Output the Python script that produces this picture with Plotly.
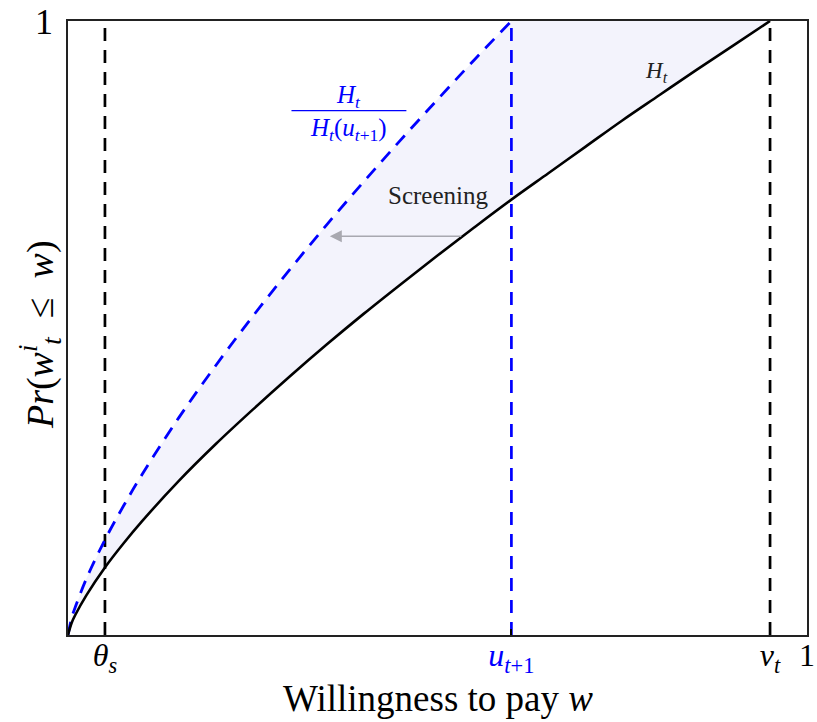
import plotly.graph_objects as go

# ---- data ----
theta_s = 0.05
u_next = 0.60
v_t = 0.95

w_grid = [0, 0.005, 0.01, 0.025, 0.05, 0.075, 0.1, 0.15, 0.2, 0.25, 0.3, 0.35,
          0.4, 0.45, 0.5, 0.55, 0.6, 0.65, 0.7, 0.75, 0.8, 0.85, 0.9, 0.95]
H_t = [0, 0.020, 0.033, 0.065, 0.110, 0.149, 0.185, 0.251, 0.311, 0.367, 0.421, 0.473,
       0.523, 0.571, 0.618, 0.664, 0.709, 0.752, 0.795, 0.838, 0.879, 0.920, 0.960, 1.0]

w_screen = [0, 0.005, 0.01, 0.025, 0.05, 0.075, 0.1, 0.15, 0.2, 0.25, 0.3, 0.35,
            0.4, 0.45, 0.5, 0.55, 0.6]
H_scaled = [0, 0.028, 0.046, 0.092, 0.155, 0.210, 0.261, 0.354, 0.439, 0.519, 0.595, 0.668,
            0.738, 0.806, 0.872, 0.937, 1.0]

x_tickvals = [theta_s, u_next, v_t, 1]
x_ticktext = ["<i>θ</i><sub><i>s</i></sub>",
              "<span style='color:#0000ff'><i>u</i><sub><i>t</i>+1</sub></span>",
              "<i>v</i><sub><i>t</i></sub>", "1"]
y_tickvals = [1]
y_ticktext = ["1"]

x_title = "Willingness to pay <i>w</i>"
y_title = "<i>Pr</i>(<i>w</i><sup><i>i</i></sup><sub><i>t</i></sub>&nbsp;&nbsp;≤&nbsp;&nbsp;<i>w</i>)"

FONT = "Liberation Serif"
BLUE = "#0000ff"
DASH = "13px,9px"

fig = go.Figure()

# shaded screening region
poly_x = w_screen + [v_t] + w_grid[::-1]
poly_y = H_scaled + [1.0] + H_t[::-1]
fig.add_trace(go.Scatter(x=poly_x, y=poly_y, mode="lines", fill="toself",
                         fillcolor="rgb(243,243,252)", line=dict(width=0),
                         hoverinfo="skip", showlegend=False))

# vertical dashed lines
for xv, col in [(theta_s, "black"), (u_next, BLUE), (v_t, "black")]:
    fig.add_trace(go.Scatter(x=[xv, xv], y=[0, 1], mode="lines",
                             line=dict(color=col, width=2.7, dash=DASH),
                             showlegend=False))

# curves
fig.add_trace(go.Scatter(x=w_screen, y=H_scaled, mode="lines",
                         line=dict(color=BLUE, width=2.8, dash=DASH, shape="spline"),
                         showlegend=False))
fig.add_trace(go.Scatter(x=w_grid, y=H_t, mode="lines",
                         line=dict(color="black", width=2.6, shape="spline"),
                         showlegend=False))

# fraction label
fig.add_annotation(x=0.380, y=0.877, text="<i>H</i><sub><i>t</i></sub>", showarrow=False,
                   font=dict(family=FONT, size=25, color=BLUE))
fig.add_shape(type="line", x0=0.3024, x1=0.4579, y0=0.854, y1=0.854,
              line=dict(color=BLUE, width=1.3))
fig.add_annotation(x=0.380, y=0.824,
                   text="<i>H</i><sub><i>t</i></sub>(<i>u</i><sub><i>t</i>+1</sub>)",
                   showarrow=False, font=dict(family=FONT, size=25, color=BLUE))

# Screening label + arrow
fig.add_annotation(x=0.500, y=0.7156, text="Screening", showarrow=False,
                   font=dict(family=FONT, size=25, color="#222222"))
fig.add_annotation(x=0.3543, y=0.6493, ax=0.5341, ay=0.6493, axref="x", ayref="y",
                   xref="x", yref="y", text="", showarrow=True,
                   arrowhead=2, arrowsize=1.6, arrowwidth=1.5, arrowcolor="#a8a8b0")

# H_t label
fig.add_annotation(x=0.7965, y=0.9177, text="<i>H</i><sub><i>t</i></sub>", showarrow=False,
                   font=dict(family=FONT, size=23, color="#222222"))

# axis titles
fig.add_annotation(x=0.5, y=-0.104, xref="paper", yref="paper", text=x_title,
                   showarrow=False, xanchor="center", yanchor="middle",
                   font=dict(family=FONT, size=37, color="black"))
fig.add_annotation(x=-0.038, y=0.49, xref="paper", yref="paper", text=y_title,
                   showarrow=False, xanchor="center", yanchor="middle", textangle=-90,
                   font=dict(family=FONT, size=38, color="black"))

fig.update_layout(
    width=817, height=722,
    margin=dict(l=68, r=10, t=21, b=87),
    plot_bgcolor="white", paper_bgcolor="white",
    font=dict(family=FONT, color="black", size=34),
)
fig.update_xaxes(range=[0, 1], tickvals=x_tickvals, ticktext=x_ticktext,
                 ticks="inside", ticklen=6, tickwidth=1.5, tickcolor="black",
                 showline=True, mirror=True, linecolor="#222222", linewidth=1.5,
                 showgrid=False, zeroline=False, automargin=False,
                 ticklabelstandoff=-9,
                 tickfont=dict(family=FONT, size=32))
fig.update_yaxes(range=[0, 1], tickvals=y_tickvals, ticktext=y_ticktext, ticks="",
                 showline=True, mirror=True, linecolor="#222222", linewidth=1.5,
                 showgrid=False, zeroline=False, automargin=False,
                 ticklabelstandoff=6,
                 tickfont=dict(family=FONT, size=36))

fig.write_html("out.html")
